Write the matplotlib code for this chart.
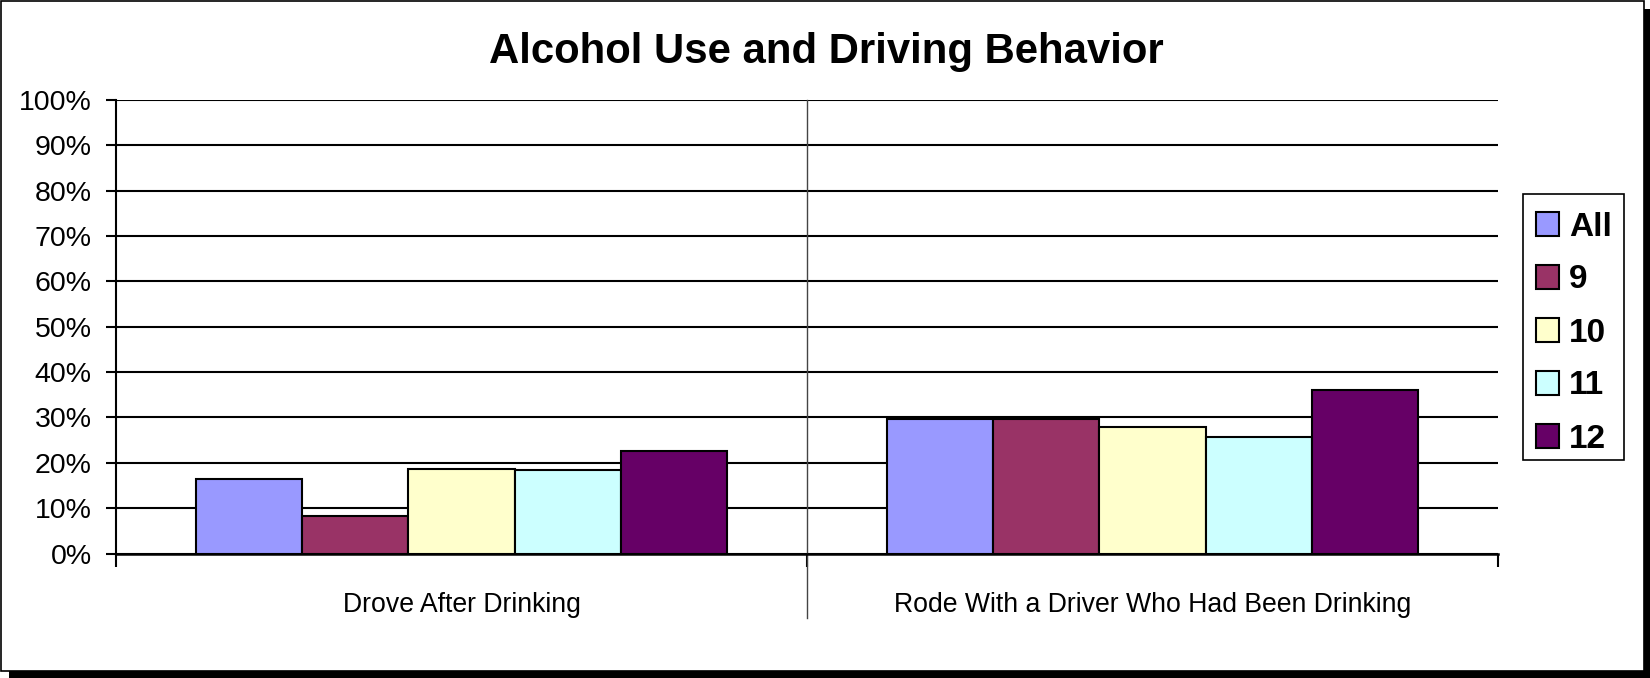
import matplotlib
matplotlib.use("Agg")
import matplotlib.pyplot as plt
from matplotlib.patches import Rectangle
import numpy as np

plt.rcParams['font.family'] = ['Liberation Sans', 'DejaVu Sans']

# data (percent)
categories = ['Drove After Drinking', 'Rode With a Driver Who Had Been Drinking']
grades = ['All', '9', '10', '11', '12']
val_all = [16.5, 29.6]
val_9 = [8.2, 29.6]
val_10 = [18.7, 27.8]
val_11 = [18.5, 25.6]
val_12 = [22.6, 36.1]
series = [val_all, val_9, val_10, val_11, val_12]
colors = ['#9999FF', '#993366', '#FFFFCC', '#CCFFFF', '#660066']
yticks = [0, 10, 20, 30, 40, 50, 60, 70, 80, 90, 100]
ytick_labels = [f'{t}%' for t in yticks]

fig = plt.figure(figsize=(16.5, 6.78), dpi=100)

# outer frame with drop shadow
fig.patches.append(Rectangle((9/1650, 0), 1641/1650, 669/678, transform=fig.transFigure,
                             facecolor='black', edgecolor='none', zorder=-10))
fig.patches.append(Rectangle((1/1650, 7/678), 1643/1650, 670/678, transform=fig.transFigure,
                             facecolor='white', edgecolor='black', lw=1.2, zorder=-9))
# legend box (drawn separately so the entries can sit a bit lower inside it)
fig.patches.append(Rectangle((1523/1650, 1 - 460/678), 101/1650, 266/678,
                             transform=fig.transFigure, facecolor='white',
                             edgecolor='black', lw=1.2, zorder=-8))

ax = fig.add_axes([116/1650, 1 - 553.5/678, (1498 - 116)/1650, (553.5 - 100)/678])
ax.set_facecolor('none')

x = np.arange(len(categories))
w = 0.768 / len(grades)
for i, (vals, c, g) in enumerate(zip(series, colors, grades)):
    ax.bar(x + (i - 2) * w, vals, width=w, color=c, edgecolor='black', lw=1.5,
           label=g, zorder=3)

ax.set_xlim(-0.5, 1.5)
ax.set_ylim(0, 100)
ax.set_yticks(yticks)
ax.set_yticklabels(ytick_labels, fontsize=20.5)
ax.yaxis.grid(True, color='black', lw=1.5, zorder=0)
ax.set_axisbelow(True)

ax.set_xticks([-0.5, 0.5, 1.5])
ax.set_xticklabels([])
ax.set_xticks(x, minor=True)
ax.set_xticklabels(categories, minor=True, fontsize=19.2)
ax.tick_params(axis='x', which='major', direction='out', length=9, width=1.5)
ax.tick_params(axis='x', which='minor', length=0, pad=28)
ax.tick_params(axis='y', direction='out', length=7.5, width=1.5, pad=10)

for s in ['top', 'right']:
    ax.spines[s].set_visible(False)
ax.spines['left'].set_linewidth(1.5)
ax.spines['bottom'].set_linewidth(1.8)

# divider between categories
ax.axvline(0.5, ymin=-0.142, ymax=1, color='#444444', lw=1, clip_on=False, zorder=1)

fig.text(826/1650, 1 - 52/678, 'Alcohol Use and Driving Behavior', ha='center', va='center',
         fontsize=30.2, fontweight='bold')

leg = ax.legend(loc='center', bbox_to_anchor=(1574/1650, 1 - 333/678),
                bbox_transform=fig.transFigure, frameon=False,
                prop={'size': 24, 'weight': 'bold'},
                handlelength=0.7, handleheight=0.7, handletextpad=0.3,
                labelspacing=0.66, borderpad=0.38, borderaxespad=0)

fig.savefig('out.png', dpi=100)
